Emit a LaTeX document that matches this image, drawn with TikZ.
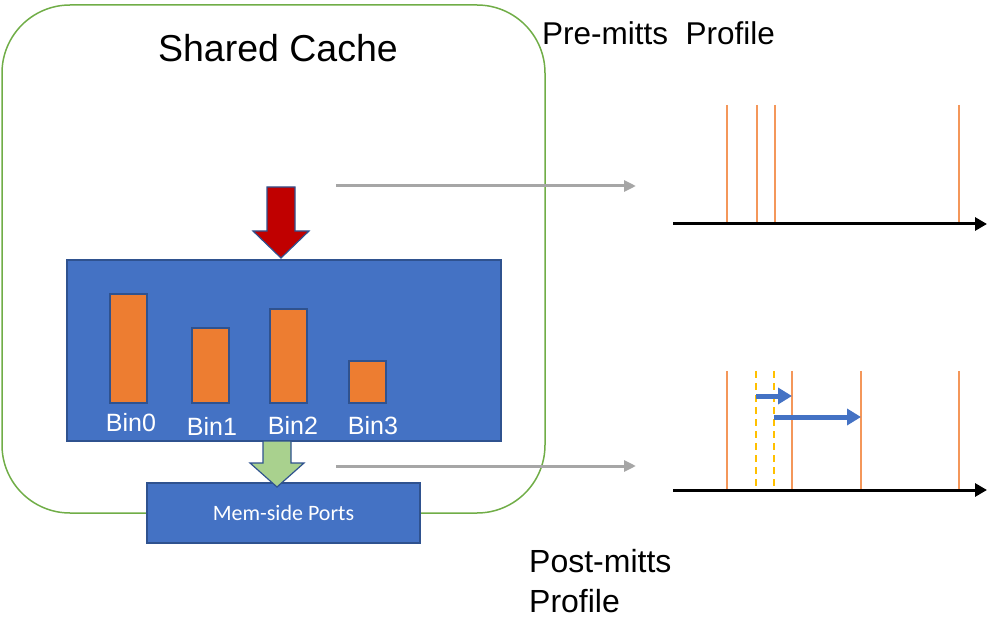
\documentclass[tikz,border=0pt]{standalone}
\usepackage{fontspec}
\setmainfont{Liberation Sans}
\newfontfamily\calib{Carlito}
\usetikzlibrary{arrows.meta}
\definecolor{cgreen}{HTML}{70AD47}
\definecolor{cblue}{HTML}{4472C4}
\definecolor{cbord}{HTML}{2F528F}
\definecolor{corange}{HTML}{ED7D31}
\definecolor{cline}{HTML}{F4975A}
\definecolor{cyel}{HTML}{FFC000}
\definecolor{cgray}{HTML}{A6A6A6}
\definecolor{cred}{HTML}{C00000}
\definecolor{clgreen}{HTML}{A9D18E}
\tikzset{
  bar/.style={fill=corange,draw=cbord,line width=1.2pt},
  binlbl/.style={text=white,font=\fontsize{25}{28}\selectfont,inner sep=0pt},
  evt/.style={draw=cline,line width=1.5pt},
  evtd/.style={draw=cyel,line width=2pt,dash pattern=on 7pt off 5pt},
  axis/.style={draw=black,line width=3pt,-{Triangle[length=12pt,width=13pt]}},
  garrow/.style={draw=cgray,line width=3pt,-{Triangle[length=12pt,width=11pt]}},
  barrow/.style={draw=cblue,line width=5pt,-{Triangle[length=14pt,width=16pt]}},
  bigtxt/.style={inner sep=0pt,align=left}
}
\begin{document}
\begin{tikzpicture}[x=1pt,y=-1pt]
\useasboundingbox (0,0) rectangle (997,639);
% shared cache outline
\draw[cgreen,line width=1.5pt,rounded corners=68pt] (2,5) rectangle (545,513);
\node[font=\fontsize{37.5}{40}\selectfont,inner sep=0pt] (title) at (278,48) {Shared Cache};
% blue bins box
\node[fill=cblue,draw=cbord,line width=1.2pt,minimum width=434pt,minimum height=181pt,inner sep=0pt] (binbox) at (284,350.5) {};
% bars
\draw[bar] (110,294) rectangle (147,403);
\draw[bar] (192,328) rectangle (229,403);
\draw[bar] (270,309) rectangle (307,403);
\draw[bar] (349,361) rectangle (386,403);
\node[binlbl] (b0) at (131,423) {Bin0};
\node[binlbl] (b1) at (212,426) {Bin1};
\node[binlbl] (b2) at (293,425) {Bin2};
\node[binlbl] (b3) at (373,426) {Bin3};
% red arrow
\draw[fill=cred,draw=cbord,line width=1.2pt,line join=miter]
  (267,187) -- (295,187) -- (295,231) -- (309,231) -- (281,258) -- (253,231) -- (267,231) -- cycle;
% mem-side ports
\node[fill=cblue,draw=cbord,line width=1.2pt,minimum width=273pt,minimum height=60pt,inner sep=0pt,text=white,font=\calib\fontsize{22}{24}\selectfont] (mem) at (283.5,513) {Mem-side Ports};
% green arrow
\draw[fill=clgreen,draw=cbord,line width=1.2pt,line join=miter]
  (263,441) -- (291,441) -- (291,463) -- (304,463) -- (277,487) -- (250,463) -- (263,463) -- cycle;
% gray arrows
\coordinate (g1s) at (336,186); \coordinate (g1e) at (636,186);
\coordinate (g2s) at (336,466); \coordinate (g2e) at (636,466);
\draw[garrow] (g1s) -- (g1e);
\draw[garrow] (g2s) -- (g2e);
% pre-mitts profile
\node[bigtxt,anchor=west,font=\fontsize{31.5}{40}\selectfont] (pre) at (542,33) {Pre-mitts\ \ Profile};
\foreach \x in {727,757,775,959} \draw[evt] (\x,105) -- (\x,224);
\coordinate (a1s) at (673,224); \coordinate (a1e) at (987,224);
\draw[axis] (a1s) -- (a1e);
% post-mitts profile
\foreach \x in {727,792,861,959} \draw[evt] (\x,371) -- (\x,490);
\draw[evtd] (756,371) -- (756,490);
\draw[evtd] (774,371) -- (774,490);
\coordinate (a2s) at (673,490); \coordinate (a2e) at (987,490);
\draw[axis] (a2s) -- (a2e);
\coordinate (m1s) at (756,396); \coordinate (m1e) at (792,396);
\coordinate (m2s) at (774,417); \coordinate (m2e) at (861,417);
\draw[barrow] (m1s) -- (m1e);
\draw[barrow] (m2s) -- (m2e);
\node[bigtxt,anchor=north west,font=\fontsize{32}{40}\selectfont] (post) at (529,549) {Post-mitts\\Profile};
\end{tikzpicture}
\end{document}
